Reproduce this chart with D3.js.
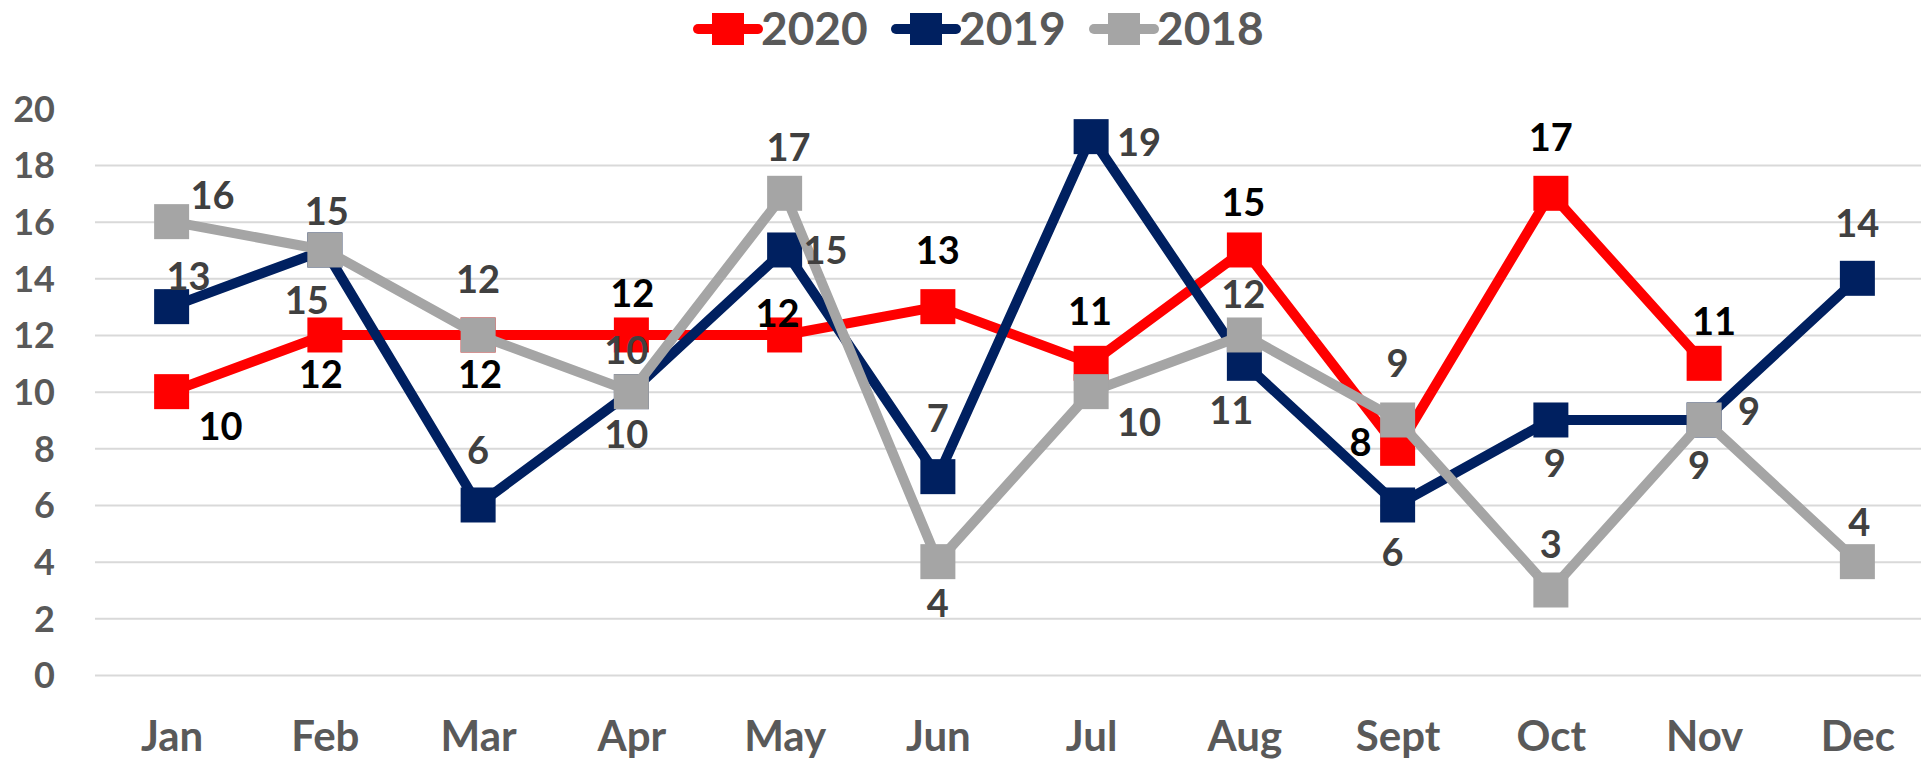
<!DOCTYPE html>
<html>
<head>
<meta charset="utf-8">
<script src="https://cdn.jsdelivr.net/npm/d3@7"></script>
<style>
  body { margin: 0; background: #ffffff; }
  svg { display: block; font-family: Lato, "Open Sans", sans-serif; font-weight: bold; }
</style>
</head>
<body>
<div id="chart"></div>
<script>
const months = ["Jan", "Feb", "Mar", "Apr", "May", "Jun", "Jul", "Aug", "Sept", "Oct", "Nov", "Dec"];
const yTicks = [0, 2, 4, 6, 8, 10, 12, 14, 16, 18, 20];
const values2020 = [10, 12, 12, 12, 12, 13, 11, 15, 8, 17, 11, null];
const values2019 = [13, 15, 6, 10, 15, 7, 19, 11, 6, 9, 9, 14];
const values2018 = [16, 15, 12, 10, 17, 4, 10, 12, 9, 3, 9, 4];

// label placement (centre offset from the marker), as dragged in the original
const offsets2020 = [[49,35],[-4,39],[2,39],[1,-42],[-7,-22],[0,-56],[-1,-52],[-1,-48],[-37,-6],[0,-56],[10,-42],null];
const offsets2019 = [[17,-30],[-18,50],[0,-55],[-5,43],[41,0],[0,-58],[48,6],[-13,47],[-5,47],[4,43],[45,-9],[0,-55]];
const offsets2018 = [[41,-26],[2,-39],[0,-56],[-5,-41],[4,-46],[0,42],[48,31],[-1,-41],[0,-57],[0,-46],[-5,45],[2,-39]];

const series = [
    {name: "2020", values: values2020, offsets: offsets2020, color: "#FF0000", labelColor: "#000000"},
    {name: "2019", values: values2019, offsets: offsets2019, color: "#002060", labelColor: "#404040"},
    {name: "2018", values: values2018, offsets: offsets2018, color: "#A5A5A5", labelColor: "#404040"}
];

const width = 1921, height = 760;
const plotLeft = 95, plotRight = 1934, plotTop = 108.3, plotBottom = 675;

const svg = d3.select("#chart")
    .append("svg")
    .attr("width", width)
    .attr("height", height);

const x = d3.scalePoint().domain(months).range([plotLeft, plotRight]).padding(0.5);
const y = d3.scaleLinear().domain([0, 20]).range([plotBottom, plotTop]);

// gridlines
svg.append("g")
    .attr("transform", "translate(" + plotLeft + ",0)")
    .call(d3.axisLeft(y).tickValues(yTicks.filter(d => d < 20)).tickSize(-(plotRight - plotLeft)).tickFormat(""))
    .call(g => g.select(".domain").remove())
    .call(g => g.selectAll("line").attr("stroke", "#D9D9D9").attr("stroke-width", 2));

// y axis labels
svg.append("g")
    .attr("transform", "translate(" + plotLeft + ",0)")
    .call(d3.axisLeft(y).tickValues(yTicks).tickSize(0).tickPadding(40))
    .call(g => g.select(".domain").remove())
    .call(g => g.selectAll("text")
        .attr("fill", "#595959")
        .attr("dy", "0.36em")
        .style("font-size", "36px")
        .style("font-family", "Lato")
        .style("font-weight", "bold"));

// x axis labels
svg.append("g")
    .attr("transform", "translate(0," + plotBottom + ")")
    .call(d3.axisBottom(x).tickSize(0))
    .call(g => g.select(".domain").remove())
    .call(g => g.selectAll("text")
        .attr("fill", "#595959")
        .attr("y", 76)
        .attr("dy", null)
        .style("font-size", "42px")
        .style("font-family", "Lato")
        .style("font-weight", "bold"));

const line = d3.line()
    .defined(d => d != null)
    .x((d, i) => x(months[i]))
    .y(d => y(d));

const markerSize = 35;

for (let s of series) {
    const g = svg.append("g").attr("class", "series");
    g.append("path")
        .datum(s.values)
        .attr("fill", "none")
        .attr("stroke", s.color)
        .attr("stroke-width", 10)
        .attr("stroke-linejoin", "round")
        .attr("stroke-linecap", "round")
        .attr("d", line);

    g.selectAll("rect")
        .data(s.values.map((v, i) => ({v: v, m: months[i]})).filter(d => d.v != null))
        .join("rect")
        .attr("x", d => x(d.m) - markerSize / 2)
        .attr("y", d => y(d.v) - markerSize / 2)
        .attr("width", markerSize)
        .attr("height", markerSize)
        .attr("fill", s.color);
}

// data labels on top
for (let s of series) {
    svg.append("g")
        .selectAll("text")
        .data(s.values.map((v, i) => ({v: v, m: months[i], o: s.offsets[i]})).filter(d => d.v != null))
        .join("text")
        .attr("x", d => x(d.m) + d.o[0])
        .attr("y", d => y(d.v) + d.o[1])
        .attr("dy", "0.36em")
        .attr("text-anchor", "middle")
        .attr("fill", s.labelColor)
        .style("font-size", "38px")
        .text(d => d.v);
}

// legend
const legend = svg.append("g").attr("class", "legend");
series.forEach((s, i) => {
    const lx = 698 + i * 198;
    const item = legend.append("g").attr("transform", "translate(" + lx + ",29)");
    item.append("line")
        .attr("x1", 0).attr("x2", 60)
        .attr("y1", 0).attr("y2", 0)
        .attr("stroke", s.color)
        .attr("stroke-width", 10)
        .attr("stroke-linecap", "round");
    item.append("rect")
        .attr("x", 14).attr("y", -16)
        .attr("width", 32).attr("height", 32)
        .attr("fill", s.color);
    item.append("text")
        .attr("x", 63)
        .attr("y", 16)
        .attr("fill", "#595959")
        .style("font-size", "46px")
        .text(s.name);
});
</script>
</body>
</html>
